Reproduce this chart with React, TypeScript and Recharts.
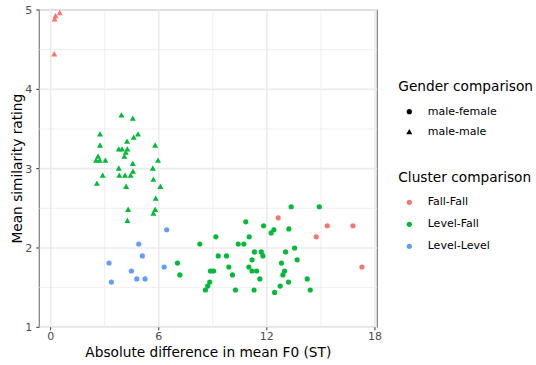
import React from "react";
import {
  ScatterChart,
  Scatter,
  XAxis,
  YAxis,
  ReferenceLine,
  ReferenceArea,
} from "recharts";

// x = absolute difference in mean F0 (ST), y = mean similarity rating
const fallFallMale = [
  { x: 0.5, y: 4.96 },
  { x: 0.27, y: 4.92 },
  { x: 0.22, y: 4.88 },
  { x: 0.2, y: 4.44 },
];

const levelFallMale = [
  { x: 3.93, y: 3.67 }, { x: 4.56, y: 3.63 }, { x: 2.74, y: 3.43 },
  { x: 4.85, y: 3.43 }, { x: 4.61, y: 3.39 }, { x: 4.24, y: 3.34 },
  { x: 2.74, y: 3.29 }, { x: 5.8, y: 3.29 }, { x: 3.78, y: 3.24 },
  { x: 3.96, y: 3.24 }, { x: 4.26, y: 3.24 }, { x: 4.17, y: 3.2 },
  { x: 4.09, y: 3.15 }, { x: 2.63, y: 3.15 }, { x: 2.52, y: 3.1 },
  { x: 2.72, y: 3.1 }, { x: 3.04, y: 3.1 }, { x: 5.96, y: 3.1 },
  { x: 4.56, y: 3.06 }, { x: 3.78, y: 3.0 }, { x: 5.67, y: 3.0 },
  { x: 4.57, y: 2.96 }, { x: 3.81, y: 2.91 }, { x: 4.13, y: 2.91 },
  { x: 4.44, y: 2.91 }, { x: 2.89, y: 2.91 }, { x: 5.7, y: 2.86 },
  { x: 2.57, y: 2.81 }, { x: 4.19, y: 2.77 }, { x: 6.09, y: 2.77 },
  { x: 5.83, y: 2.62 }, { x: 4.3, y: 2.48 }, { x: 5.8, y: 2.48 },
  { x: 5.7, y: 2.43 }, { x: 4.26, y: 2.34 },
];

const levelLevelFemale = [
  { x: 6.44, y: 2.23 }, { x: 4.89, y: 2.05 }, { x: 5.09, y: 1.9 },
  { x: 3.24, y: 1.81 }, { x: 4.48, y: 1.71 }, { x: 6.3, y: 1.76 },
  { x: 4.78, y: 1.61 }, { x: 5.24, y: 1.61 }, { x: 3.37, y: 1.57 },
];

const levelFallFemale = [
  { x: 7.04, y: 1.81 }, { x: 7.17, y: 1.66 }, { x: 8.28, y: 2.05 },
  { x: 13.35, y: 2.52 }, { x: 14.91, y: 2.52 }, { x: 10.83, y: 2.33 },
  { x: 11.82, y: 2.28 }, { x: 12.39, y: 2.23 }, { x: 12.24, y: 2.19 },
  { x: 13.22, y: 2.24 }, { x: 9.17, y: 2.14 }, { x: 11.02, y: 2.14 },
  { x: 10.41, y: 2.05 }, { x: 10.72, y: 2.05 }, { x: 13.54, y: 2.0 },
  { x: 11.31, y: 1.95 }, { x: 11.69, y: 1.95 }, { x: 13.04, y: 1.95 },
  { x: 11.78, y: 1.9 }, { x: 9.3, y: 1.9 }, { x: 9.76, y: 1.9 },
  { x: 11.18, y: 1.85 }, { x: 13.68, y: 1.85 }, { x: 12.81, y: 1.81 },
  { x: 9.89, y: 1.76 }, { x: 11.0, y: 1.76 }, { x: 8.87, y: 1.71 },
  { x: 9.04, y: 1.71 }, { x: 11.18, y: 1.71 }, { x: 11.43, y: 1.71 },
  { x: 12.98, y: 1.71 }, { x: 12.89, y: 1.66 }, { x: 10.09, y: 1.66 },
  { x: 11.61, y: 1.61 }, { x: 14.24, y: 1.61 }, { x: 13.2, y: 1.57 },
  { x: 8.83, y: 1.57 }, { x: 8.72, y: 1.52 }, { x: 12.74, y: 1.52 },
  { x: 8.59, y: 1.47 }, { x: 10.26, y: 1.47 }, { x: 11.29, y: 1.47 },
  { x: 14.41, y: 1.47 }, { x: 12.43, y: 1.44 },
];

const fallFallFemale = [
  { x: 12.63, y: 2.38 }, { x: 15.35, y: 2.28 }, { x: 16.78, y: 2.28 },
  { x: 14.74, y: 2.14 }, { x: 17.28, y: 1.76 },
];

const xTicks = [0, 6, 12, 18];
const xMinor = [3, 9, 15];
const yTicks = [1, 2, 3, 4, 5];
const yMinor = [1.5, 2.5, 3.5, 4.5];
const xDomain: [number, number] = [-0.63, 18.13];
const yDomain: [number, number] = [1, 5];

const genderLabels = ["male-female", "male-male"];
const clusterLabels = ["Fall-Fall", "Level-Fall", "Level-Level"];

const RED = "#F8766D";
const GREEN = "#00BA38";
const BLUE = "#619CFF";
const clusterColors = [RED, GREEN, BLUE];
const FONT = "'DejaVu Sans', sans-serif";

const dot = (fill: string) => (p: any) =>
  <circle cx={p.cx} cy={p.cy} r={2.6} fill={fill} />;

const tri = (fill: string) => (p: any) => {
  const { cx, cy } = p;
  return (
    <polygon
      points={`${cx},${cy - 3.3} ${cx + 3},${cy + 2} ${cx - 3},${cy + 2}`}
      fill={fill}
    />
  );
};

const tickStyle = { fill: "#4D4D4D", fontSize: 11, fontFamily: FONT };

export default function App() {
  return (
    <div style={{ position: "absolute", left: 0, top: 0, width: 536, height: 365, background: "#fff", fontFamily: FONT }}>
      <ScatterChart
        width={536}
        height={365}
        margin={{ top: 10, right: 158.7, bottom: 0, left: 0 }}
      >
        {xMinor.map((v) => (
          <ReferenceLine key={"xm" + v} x={v} stroke="#EBEBEB" strokeWidth={0.8} />
        ))}
        {yMinor.map((v) => (
          <ReferenceLine key={"ym" + v} y={v} stroke="#EBEBEB" strokeWidth={0.8} />
        ))}
        {xTicks.map((v) => (
          <ReferenceLine key={"x" + v} x={v} stroke="#EBEBEB" strokeWidth={1.6} />
        ))}
        {yTicks.map((v) => (
          <ReferenceLine key={"y" + v} y={v} stroke="#EBEBEB" strokeWidth={1.6} />
        ))}
        <XAxis
          type="number"
          dataKey="x"
          domain={xDomain}
          ticks={xTicks}
          allowDataOverflow
          height={37.7}
          axisLine={false}
          tickSize={3}
          tickMargin={2}
          tickLine={{ stroke: "#333333" }}
          tick={tickStyle}
          label={{
            value: "Absolute difference in mean F0 (ST)",
            position: "insideBottom",
            offset: 8,
            style: { fill: "#000", fontSize: 13.7, fontFamily: FONT },
          }}
        />
        <YAxis
          type="number"
          dataKey="y"
          domain={yDomain}
          ticks={yTicks}
          allowDataOverflow
          width={39.3}
          axisLine={false}
          tickSize={3}
          tickMargin={4}
          tickLine={{ stroke: "#333333" }}
          tick={tickStyle}
          label={{
            value: "Mean similarity rating",
            angle: -90,
            position: "insideLeft",
            offset: 17,
            style: { fill: "#000", fontSize: 13.7, fontFamily: FONT, textAnchor: "middle" },
          }}
        />
        <ReferenceArea
          x1={xDomain[0]}
          x2={xDomain[1]}
          y1={yDomain[0]}
          y2={yDomain[1]}
          fill="none"
          stroke="#7F7F7F"
          strokeWidth={1.2}
          ifOverflow="visible"
        />
        <Scatter data={fallFallMale} shape={tri(RED)} isAnimationActive={false} />
        <Scatter data={levelFallMale} shape={tri(GREEN)} isAnimationActive={false} />
        <Scatter data={levelLevelFemale} shape={dot(BLUE)} isAnimationActive={false} />
        <Scatter data={levelFallFemale} shape={dot(GREEN)} isAnimationActive={false} />
        <Scatter data={fallFallFemale} shape={dot(RED)} isAnimationActive={false} />
      </ScatterChart>
      <svg
        width={150}
        height={200}
        style={{ position: "absolute", left: 386, top: 70 }}
      >
        <text x={12.3} y={17} fontSize={13.7} fill="#000" dominantBaseline="middle">
          Gender comparison
        </text>
        {genderLabels.map((lab, i) => {
          const cy = 41.7 + i * 20.6;
          return (
            <g key={lab}>
              {i === 0 ? (
                <circle cx={23.3} cy={cy} r={2.6} fill="#000" />
              ) : (
                <polygon points={`23.3,${cy - 3.3} 26.3,${cy + 2} 20.3,${cy + 2}`} fill="#000" />
              )}
              <text x={41.7} y={cy} fontSize={11} fill="#000" dominantBaseline="middle">
                {lab}
              </text>
            </g>
          );
        })}
        <text x={12.3} y={108.3} fontSize={13.7} fill="#000" dominantBaseline="middle">
          Cluster comparison
        </text>
        {clusterLabels.map((lab, i) => {
          const cy = 132.3 + i * 22;
          return (
            <g key={lab}>
              <circle cx={23.3} cy={cy} r={2.6} fill={clusterColors[i]} />
              <text x={41.7} y={cy} fontSize={11} fill="#000" dominantBaseline="middle">
                {lab}
              </text>
            </g>
          );
        })}
      </svg>
    </div>
  );
}
